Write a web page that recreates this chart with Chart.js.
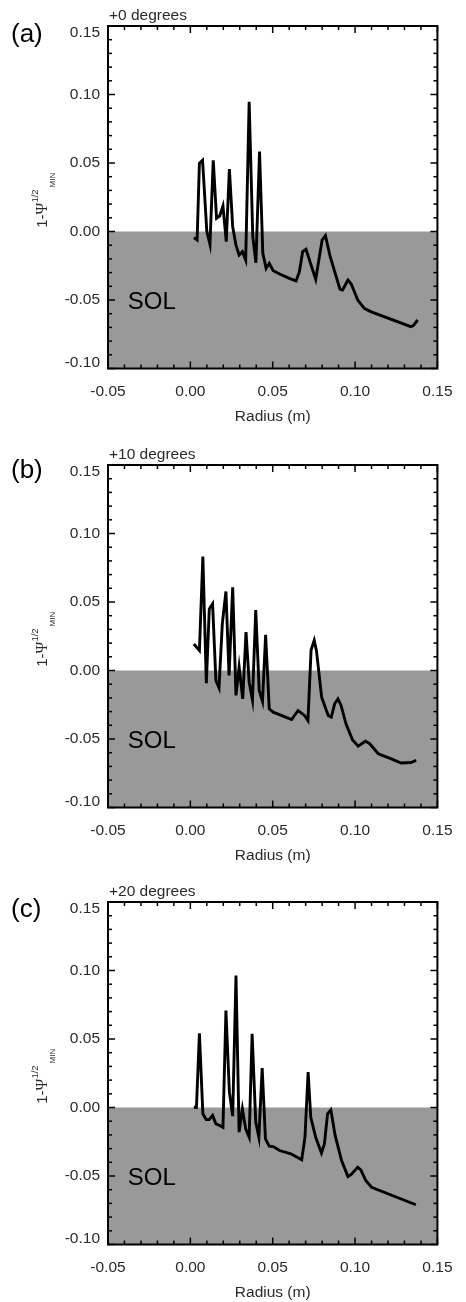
<!DOCTYPE html>
<html><head><meta charset="utf-8">
<script src="https://cdn.jsdelivr.net/npm/chart.js@4.4.0/dist/chart.umd.min.js"></script>
<style>
html,body{margin:0;padding:0;background:#fff;width:466px;height:1302px;overflow:hidden}
.p{position:absolute;left:0;width:466px;height:426px}
canvas{display:block}
</style></head><body>
<div class="p" style="top:0px"><canvas id="c0" width="466" height="426"></canvas></div>
<div class="p" style="top:439px"><canvas id="c1" width="466" height="426"></canvas></div>
<div class="p" style="top:876px"><canvas id="c2" width="466" height="426"></canvas></div>
<script>
// ---------------- data ----------------
const panelLetters = ['(a)', '(b)', '(c)'];
const panelTitles = ['+0 degrees', '+10 degrees', '+20 degrees'];
const xLabel = 'Radius (m)';
const xTicks = [-0.05, 0.00, 0.05, 0.10, 0.15];
const yTicks = [-0.10, -0.05, 0.00, 0.05, 0.10, 0.15];
const solText = 'SOL';
const solEdgeX = [-0.05, 0.15];
const solEdgeY = [0, 0];

const radiusA = [0.0021, 0.0041, 0.0055, 0.0074, 0.0100, 0.0119, 0.0139, 0.0159, 0.0178, 0.0198, 0.0218, 0.0237, 0.0257, 0.0277, 0.0296, 0.0316, 0.0336, 0.0357, 0.0379, 0.0398, 0.0420, 0.0440, 0.0460, 0.0479, 0.0503, 0.0542, 0.0601, 0.0642, 0.0662, 0.0682, 0.0702, 0.0761, 0.0800, 0.0820, 0.0849, 0.0908, 0.0924, 0.0957, 0.0977, 0.1016, 0.1056, 0.1095, 0.1338, 0.1354, 0.1380];
const psiA = [-0.0045, -0.0062, 0.0498, 0.0520, 0.0000, -0.0094, 0.0520, 0.0096, 0.0113, 0.0186, -0.0074, 0.0456, 0.0035, -0.0099, -0.0172, -0.0147, -0.0208, 0.0947, -0.0038, -0.0228, 0.0583, -0.0159, -0.0269, -0.0232, -0.0286, -0.0310, -0.0342, -0.0361, -0.0293, -0.0147, -0.0130, -0.0349, -0.0062, -0.0030, -0.0184, -0.0420, -0.0427, -0.0354, -0.0383, -0.0500, -0.0561, -0.0585, -0.0695, -0.0687, -0.0646];

const radiusB = [0.0021, 0.0055, 0.0076, 0.0097, 0.0115, 0.0135, 0.0155, 0.0174, 0.0194, 0.0216, 0.0235, 0.0257, 0.0277, 0.0296, 0.0318, 0.0338, 0.0357, 0.0377, 0.0397, 0.0418, 0.0438, 0.0457, 0.0479, 0.0503, 0.0571, 0.0615, 0.0654, 0.0693, 0.0714, 0.0733, 0.0752, 0.0766, 0.0797, 0.0837, 0.0856, 0.0876, 0.0896, 0.0915, 0.0945, 0.0984, 0.1019, 0.1062, 0.1086, 0.1141, 0.1220, 0.1280, 0.1340, 0.1371];
const psiB = [0.0193, 0.0146, 0.0832, -0.0093, 0.0450, 0.0487, -0.0073, -0.0127, 0.0340, 0.0577, -0.0036, 0.0608, -0.0182, 0.0027, -0.0207, 0.0280, -0.0085, -0.0215, 0.0442, -0.0146, -0.0226, 0.0261, -0.0279, -0.0304, -0.0336, -0.0358, -0.0292, -0.0328, -0.0365, 0.0150, 0.0220, 0.0140, -0.0195, -0.0328, -0.0340, -0.0243, -0.0207, -0.0255, -0.0389, -0.0506, -0.0552, -0.0516, -0.0531, -0.0608, -0.0645, -0.0675, -0.0672, -0.0655];

const radiusC = [0.0021, 0.0037, 0.0055, 0.0076, 0.0096, 0.0115, 0.0135, 0.0155, 0.0178, 0.0198, 0.0216, 0.0237, 0.0257, 0.0277, 0.0296, 0.0316, 0.0336, 0.0357, 0.0375, 0.0397, 0.0416, 0.0436, 0.0456, 0.0479, 0.0503, 0.0542, 0.0610, 0.0676, 0.0696, 0.0715, 0.0731, 0.0761, 0.0796, 0.0814, 0.0833, 0.0853, 0.0879, 0.0918, 0.0957, 0.0977, 0.1016, 0.1035, 0.1065, 0.1100, 0.1369];
const psiC = [0.0002, 0.0000, 0.0542, -0.0046, -0.0088, -0.0088, -0.0058, -0.0119, -0.0131, -0.0144, 0.0708, 0.0112, -0.0063, 0.0964, -0.0180, -0.0010, -0.0156, -0.0217, 0.0538, -0.0107, -0.0217, 0.0287, -0.0229, -0.0282, -0.0285, -0.0314, -0.0338, -0.0382, -0.0217, 0.0258, -0.0071, -0.0217, -0.0333, -0.0265, -0.0046, -0.0017, -0.0204, -0.0387, -0.0504, -0.0489, -0.0436, -0.0455, -0.0533, -0.0582, -0.0710];

const panelRadius = [radiusA, radiusB, radiusC];
const panelPsi = [psiA, psiB, psiC];

// ---------------- styling ----------------
const SANS = '"Liberation Sans", Arial, Helvetica, sans-serif';
const SERIF = '"Liberation Serif", "DejaVu Serif", serif';
const TEXT = '#2a2a2a';
const letterBaselines = [42, 39, 41];

const decor = {
  id: 'decor',
  afterDraw(chart, args, opts) {
    const ctx = chart.ctx, a = chart.chartArea;
    const xs = chart.scales.x, ys = chart.scales.y;
    ctx.save();
    ctx.strokeStyle = '#000';
    ctx.lineWidth = 1.5;
    const seg = (x1, y1, x2, y2) => { ctx.beginPath(); ctx.moveTo(x1, y1); ctx.lineTo(x2, y2); ctx.stroke(); };
    const MAJ = 7, MIN = 4;
    for (let i = 0; i < xTicks.length; i++) {
      const v = xTicks[i], p = xs.getPixelForValue(v);
      seg(p, a.bottom, p, a.bottom - MAJ); seg(p, a.top, p, a.top + MAJ);
      if (i < xTicks.length - 1) {
        const st = (xTicks[i + 1] - v) / 5;
        for (let k = 1; k < 5; k++) {
          const m = xs.getPixelForValue(v + k * st);
          seg(m, a.bottom, m, a.bottom - MIN); seg(m, a.top, m, a.top + MIN);
        }
      }
    }
    for (let i = 0; i < yTicks.length; i++) {
      const v = yTicks[i], p = ys.getPixelForValue(v);
      seg(a.left, p, a.left + MAJ, p); seg(a.right, p, a.right - MAJ, p);
      if (i < yTicks.length - 1) {
        const st = (yTicks[i + 1] - v) / 5;
        for (let k = 1; k < 5; k++) {
          const m = ys.getPixelForValue(v + k * st);
          seg(a.left, m, a.left + MIN, m); seg(a.right, m, a.right - MIN, m);
        }
      }
    }
    ctx.lineWidth = 2;
    ctx.strokeRect(a.left, a.top, a.right - a.left, a.bottom - a.top);

    // y tick labels
    ctx.fillStyle = TEXT;
    ctx.font = '15.5px ' + SANS;
    ctx.textAlign = 'right';
    ctx.textBaseline = 'middle';
    for (let i = 0; i < yTicks.length; i++) {
      let p = ys.getPixelForValue(yTicks[i]);
      if (i === yTicks.length - 1) p += 7;
      if (i === 0) p -= 6;
      ctx.fillText(yTicks[i].toFixed(2), a.left - 8, p);
    }

    // panel title
    ctx.textAlign = 'left';
    ctx.textBaseline = 'alphabetic';
    ctx.font = '15.5px ' + SANS;
    ctx.fillStyle = TEXT;
    ctx.fillText(opts.title, a.left + 1, a.top - 6);

    // panel letter
    ctx.font = '26px ' + SANS;
    ctx.fillStyle = '#000';
    ctx.fillText(opts.letter, 11, opts.letterBase);

    // SOL
    ctx.font = '24px ' + SANS;
    ctx.fillStyle = '#000';
    ctx.fillText(solText, xs.getPixelForValue(-0.038), ys.getPixelForValue(-0.0565));

    // y axis title: 1-Psi^(1/2)_MIN, rotated
    const cy = (a.top + a.bottom) / 2 + 3;
    ctx.translate(47, cy);
    ctx.rotate(-Math.PI / 2);
    ctx.fillStyle = TEXT;
    const parts = [
      ['1-', '15px ' + SANS, 0],
      ['\u03A8', '16px ' + SERIF, 0],
      ['1/2', '9.5px ' + SANS, -9],
      ['MIN', '8px ' + SANS, 8]
    ];
    let total = 0;
    const widths = parts.map(pt => { ctx.font = pt[1]; const w = ctx.measureText(pt[0]).width; total += w; return w; });
    total += 2;
    let px = -total / 2;
    parts.forEach((pt, i) => {
      ctx.font = pt[1];
      ctx.fillText(pt[0], px, pt[2]);
      px += widths[i] + (i === 2 ? 2 : 0);
    });
    ctx.restore();
  }
};

function makePanel(idx) {
  const pts = panelRadius[idx].map((r, i) => ({ x: r, y: panelPsi[idx][i] }));
  const sol = solEdgeX.map((r, i) => ({ x: r, y: solEdgeY[i] }));
  return new Chart(document.getElementById('c' + idx), {
    type: 'line',
    data: {
      datasets: [
        { data: pts, borderColor: '#000', borderWidth: 2.9, pointRadius: 0, tension: 0, fill: false },
        { data: sol, borderWidth: 0, borderColor: 'rgba(0,0,0,0)', backgroundColor: '#999999', pointRadius: 0, fill: 'start' }
      ]
    },
    options: {
      responsive: false,
      animation: false,
      devicePixelRatio: 1,
      events: [],
      layout: { padding: { top: 26, right: 19, bottom: 0, left: 0 } },
      plugins: {
        legend: { display: false },
        tooltip: { enabled: false },
        decor: { title: panelTitles[idx], letter: panelLetters[idx], letterBase: letterBaselines[idx] }
      },
      scales: {
        x: {
          type: 'linear', min: -0.05, max: 0.15,
          afterBuildTicks: s => { s.ticks = xTicks.map(v => ({ value: v })); },
          afterFit: s => { s.height = 57.5; },
          grid: { display: false, drawTicks: false },
          border: { display: false },
          ticks: { color: TEXT, font: { family: SANS, size: 15.5 }, padding: 13.5, maxRotation: 0, autoSkip: false,
                   callback: v => Number(v).toFixed(2) },
          title: { display: true, text: xLabel, color: TEXT, font: { family: SANS, size: 15.5 }, padding: { top: 0, bottom: 0 } }
        },
        y: {
          type: 'linear', min: -0.10, max: 0.15,
          afterBuildTicks: s => { s.ticks = yTicks.map(v => ({ value: v })); },
          afterFit: s => { s.width = 108; },
          grid: { display: false, drawTicks: false },
          border: { display: false },
          ticks: { display: false }
        }
      }
    },
    plugins: [decor]
  });
}
[0, 1, 2].forEach(makePanel);
</script>
</body></html>
